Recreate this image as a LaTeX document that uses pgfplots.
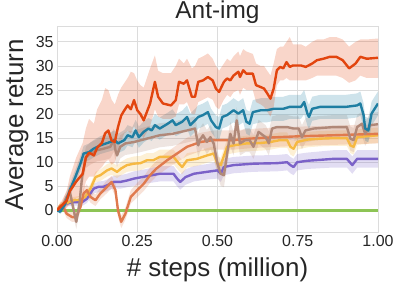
\documentclass[border=0pt]{standalone}
\usepackage{pgfplots}
\pgfplotsset{compat=1.18}
\usepgfplotslibrary{fillbetween}
\usepackage{pgfplotstable}
\usepackage{fontspec}
\setmainfont{Liberation Sans}
\definecolor{cred}{HTML}{E2450F}
\definecolor{cteal}{HTML}{1F7EA2}
\definecolor{cbrown}{HTML}{B08878}
\definecolor{corange}{HTML}{E07A4E}
\definecolor{cyellow}{HTML}{F6B942}
\definecolor{cpurple}{HTML}{7B62C8}
\definecolor{cgreen}{HTML}{8DC455}
\definecolor{gridc}{HTML}{DCDCDC}

\pgfplotstableread{
x y lo hi
0.00 0.0 0.0 0.0
0.03 2.0 0.5 4.0
0.04 4.0 1.5 7.0
0.06 6.0 2.5 11.0
0.08 7.6 3.0 14.0
0.09 11.0 6.0 17.0
0.10 12.0 7.0 19.0
0.115 11.4 7.0 18.0
0.125 13.0 8.0 21.0
0.14 14.0 9.0 23.0
0.15 16.0 10.0 25.4
0.16 16.6 10.5 25.0
0.17 14.5 9.5 23.0
0.18 14.2 10.0 22.0
0.19 17.3 12.5 24.0
0.20 19.7 14.5 25.5
0.21 20.8 16.0 26.5
0.22 21.8 16.5 27.5
0.23 21.0 16.0 28.8
0.24 22.9 17.5 28.5
0.25 20.8 16.0 27.0
0.26 20.0 16.0 26.0
0.27 18.7 15.0 25.5
0.29 22.2 17.5 29.5
0.305 26.7 21.0 32.2
0.315 23.6 19.5 29.0
0.33 22.2 19.0 28.5
0.355 21.8 19.0 28.5
0.37 22.9 19.5 30.0
0.38 26.7 22.0 31.5
0.395 26.3 22.0 30.5
0.405 27.0 22.5 31.5
0.42 23.6 20.0 29.5
0.43 23.6 20.0 30.0
0.44 26.7 22.5 31.5
0.455 27.0 23.0 32.0
0.47 27.7 23.5 32.6
0.485 27.0 23.0 31.5
0.495 25.3 21.5 30.0
0.505 24.6 21.0 29.0
0.52 26.7 23.0 30.5
0.53 27.4 24.0 31.5
0.54 27.0 23.5 31.0
0.55 28.0 24.5 32.0
0.565 28.8 25.0 33.0
0.57 27.7 24.0 32.0
0.58 29.1 25.5 33.5
0.59 28.4 25.0 33.0
0.61 28.4 25.0 32.5
0.62 26.0 22.5 30.5
0.635 25.6 22.0 30.0
0.645 25.3 21.5 30.0
0.655 24.3 20.5 29.0
0.665 23.2 19.5 28.0
0.675 25.3 21.5 30.5
0.685 29.1 26.0 33.5
0.695 29.8 27.0 34.0
0.705 29.5 27.0 34.0
0.715 30.8 27.5 35.0
0.725 29.8 27.0 36.0
0.735 30.1 27.0 34.5
0.76 30.1 27.0 34.5
0.775 29.8 27.0 34.0
0.795 30.5 27.5 35.0
0.81 31.2 28.0 35.5
0.83 31.5 28.0 35.5
0.85 31.9 28.0 36.0
0.87 31.9 28.0 36.0
0.89 31.2 27.5 35.5
0.91 29.5 26.5 34.0
0.93 30.5 27.0 35.0
0.945 31.9 28.0 35.5
0.965 31.5 27.5 35.5
1.00 31.7 27.5 35.7
}\redt

\pgfplotstableread{
x y lo hi
0.00 0.0 0.0 0.0
0.01 -0.3 -0.8 0.3
0.026 1.4 0.5 2.4
0.04 4.2 3.0 5.5
0.057 6.9 5.5 8.4
0.073 9.7 8.2 11.3
0.083 11.8 10.2 13.4
0.10 12.1 10.4 13.9
0.114 12.8 11.0 14.6
0.135 13.5 11.7 15.4
0.166 14.2 12.3 16.2
0.18 14.6 12.6 16.6
0.19 13.9 11.9 15.9
0.21 14.6 12.5 16.7
0.22 15.6 13.5 17.7
0.235 15.2 13.1 17.3
0.245 16.6 14.4 18.8
0.255 15.2 13.0 17.4
0.27 16.3 14.1 18.5
0.285 17.0 14.8 19.2
0.295 16.6 14.4 18.8
0.305 17.7 15.4 20.0
0.32 17.0 14.7 19.3
0.345 18.0 15.7 20.3
0.36 18.7 16.4 21.0
0.37 17.7 15.4 20.0
0.39 18.4 16.1 20.7
0.405 19.4 17.0 21.8
0.415 17.7 15.3 20.1
0.43 18.7 16.3 21.1
0.44 19.4 17.0 21.8
0.455 19.8 17.4 22.2
0.47 20.4 18.0 22.8
0.48 18.7 16.3 21.1
0.495 17.3 14.9 19.7
0.505 17.0 14.6 19.4
0.515 19.4 17.0 21.8
0.53 19.8 17.4 22.2
0.55 20.8 18.3 23.3
0.565 20.1 17.6 22.6
0.58 20.8 18.3 23.3
0.59 18.4 15.9 20.9
0.60 18.0 15.5 20.5
0.61 20.4 17.9 22.9
0.635 20.8 18.3 23.3
0.655 20.8 18.3 23.3
0.675 21.1 18.6 23.6
0.705 21.1 18.6 23.6
0.725 21.5 19.0 24.0
0.75 21.5 19.0 24.0
0.76 21.5 19.0 24.0
0.77 22.5 20.0 25.0
0.78 20.1 17.6 22.6
0.785 19.4 16.9 21.9
0.795 21.1 18.6 23.6
0.82 21.5 19.0 24.0
0.86 21.5 19.0 24.0
0.90 21.5 19.0 24.0
0.935 21.8 19.3 24.3
0.945 22.2 19.7 24.7
0.955 19.8 17.3 22.3
0.96 17.0 14.5 19.5
0.97 16.6 14.1 19.1
0.98 20.1 17.6 22.6
1.00 22.2 19.7 24.7
}\tealt

\pgfplotstableread{
x y lo hi
0.00 0.0 0.0 0.0
0.016 0.7 -0.3 1.7
0.03 2.8 1.5 4.1
0.04 3.8 2.3 5.3
0.05 0.7 -0.8 2.2
0.06 -2.4 -3.9 -0.9
0.07 1.4 -0.4 3.2
0.078 6.9 4.9 8.9
0.09 11.0 8.8 13.2
0.104 11.8 9.5 14.1
0.125 12.5 10.2 14.8
0.145 12.8 10.4 15.2
0.166 13.2 10.8 15.6
0.177 14.6 12.2 17.0
0.182 12.5 10.1 14.9
0.187 11.4 9.0 13.8
0.197 13.2 10.8 15.6
0.213 13.9 11.5 16.3
0.24 14.2 11.8 16.6
0.28 14.9 12.4 17.4
0.32 15.6 13.1 18.1
0.36 15.9 13.4 18.4
0.405 16.6 14.1 19.1
0.43 17.0 14.5 19.5
0.44 13.5 11.0 16.0
0.445 14.6 12.1 17.1
0.455 15.6 13.1 18.1
0.467 14.2 11.7 16.7
0.478 15.2 12.7 17.7
0.488 13.9 11.4 16.4
0.50 9.7 7.2 12.2
0.51 7.6 5.1 10.1
0.52 7.3 4.8 9.8
0.53 11.8 9.3 14.3
0.54 15.9 13.4 18.4
0.55 13.9 11.4 16.4
0.56 18.7 16.0 21.4
0.57 13.9 11.4 16.4
0.587 14.6 12.1 17.1
0.60 14.6 12.1 17.1
0.612 13.2 10.7 15.7
0.628 16.3 13.8 18.8
0.65 15.2 12.7 17.7
0.66 13.9 11.4 16.4
0.67 17.0 14.5 19.5
0.685 17.3 14.8 19.8
0.717 17.3 14.8 19.8
0.737 17.0 14.5 19.5
0.753 17.0 14.5 19.5
0.763 15.2 12.7 17.7
0.774 16.6 14.1 19.1
0.80 17.0 14.5 19.5
0.862 17.3 14.8 19.8
0.903 17.3 14.8 19.8
0.914 14.9 12.4 17.4
0.924 14.6 12.1 17.1
0.935 17.3 14.8 19.8
0.95 18.0 15.5 20.5
0.96 15.9 13.4 18.4
0.976 17.7 15.2 20.2
1.00 17.9 15.4 20.4
}\brownt

\pgfplotstableread{
x y lo hi
0.00 0.0 0.0 0.0
0.01 1.0 0.2 1.8
0.02 0.7 -0.2 1.6
0.03 -0.7 -1.6 0.2
0.047 -1.4 -2.4 -0.4
0.06 -1.4 -2.4 -0.4
0.073 0.7 -0.4 1.8
0.083 3.5 2.3 4.7
0.093 4.2 3.0 5.4
0.104 2.8 1.6 4.0
0.12 2.1 0.9 3.3
0.135 3.5 2.3 4.7
0.156 4.9 3.6 6.2
0.17 5.9 4.6 7.2
0.182 4.2 2.9 5.5
0.19 0.0 -1.3 1.3
0.20 -2.4 -3.7 -1.1
0.213 -0.7 -2.0 0.6
0.23 2.8 1.4 4.2
0.25 4.2 2.7 5.7
0.27 5.5 4.0 7.0
0.29 7.3 5.7 8.9
0.31 8.7 7.1 10.3
0.343 10.4 8.7 12.1
0.374 11.8 10.0 13.6
0.405 13.2 11.3 15.1
0.447 14.2 12.3 16.1
0.488 14.6 12.6 16.6
0.55 14.6 12.6 16.6
0.60 14.9 12.9 16.9
0.654 15.1 13.1 17.1
0.758 15.4 13.4 17.4
0.862 15.6 13.6 17.6
1.00 15.9 13.9 17.9
}\oranget

\pgfplotstableread{
x y lo hi
0.00 0.0 0.0 0.0
0.01 1.0 0.5 1.5
0.03 1.5 0.9 2.1
0.052 2.1 1.4 2.8
0.073 2.2 1.4 3.0
0.088 2.8 1.9 3.7
0.104 4.5 3.5 5.5
0.12 6.9 5.8 8.0
0.135 7.3 6.1 8.5
0.156 8.3 7.0 9.6
0.17 8.7 7.4 10.0
0.187 8.0 6.7 9.3
0.20 8.7 7.3 10.1
0.218 9.4 8.0 10.8
0.24 9.7 8.2 11.2
0.26 9.8 8.3 11.3
0.28 10.4 8.9 11.9
0.30 10.4 8.9 11.9
0.32 11.1 9.6 12.6
0.343 11.1 9.6 12.6
0.363 11.1 9.6 12.6
0.38 9.7 8.2 11.2
0.39 9.0 7.5 10.5
0.405 10.4 8.9 11.9
0.436 10.7 9.2 12.2
0.467 11.4 9.9 12.9
0.488 11.8 10.3 13.3
0.50 9.7 8.2 11.2
0.51 9.4 7.9 10.9
0.53 13.2 11.6 14.8
0.55 13.5 11.9 15.1
0.59 13.9 12.3 15.5
0.635 14.0 12.4 15.6
0.665 14.2 12.6 15.8
0.695 14.6 13.0 16.2
0.717 14.6 13.0 16.2
0.727 13.2 11.6 14.8
0.737 12.8 11.2 14.4
0.748 14.2 12.6 15.8
0.78 14.7 13.1 16.3
0.82 14.9 13.3 16.5
0.862 15.0 13.4 16.6
0.903 15.0 13.4 16.6
0.914 13.5 11.9 15.1
0.924 13.2 11.6 14.8
0.935 15.2 13.6 16.8
0.966 15.4 13.8 17.0
1.00 15.6 14.0 17.2
}\yellowt

\pgfplotstableread{
x y lo hi
0.00 0.0 0.0 0.0
0.01 0.7 0.3 1.1
0.03 1.4 0.8 2.0
0.052 1.7 1.0 2.4
0.078 1.7 0.9 2.5
0.093 2.4 1.5 3.3
0.114 4.5 3.5 5.5
0.13 4.9 3.8 6.0
0.145 4.9 3.7 6.1
0.156 5.2 4.0 6.4
0.177 5.9 4.6 7.2
0.197 5.9 4.5 7.3
0.218 6.2 4.8 7.6
0.24 6.6 5.1 8.1
0.28 7.1 5.6 8.6
0.32 7.6 6.0 9.2
0.363 7.6 6.0 9.2
0.374 6.6 5.0 8.2
0.384 5.9 4.3 7.5
0.40 6.9 5.3 8.5
0.426 7.6 6.0 9.2
0.467 8.0 6.4 9.6
0.50 8.3 6.6 10.0
0.51 7.6 5.9 9.3
0.52 9.0 7.3 10.7
0.55 9.4 7.7 11.1
0.613 9.7 8.0 11.4
0.685 9.8 8.1 11.5
0.717 10.0 8.3 11.7
0.727 9.4 7.7 11.1
0.737 9.0 7.3 10.7
0.748 10.0 8.3 11.7
0.78 10.3 8.6 12.0
0.862 10.7 8.9 12.5
0.903 10.7 8.9 12.5
0.92 9.4 7.6 11.2
0.935 10.7 8.9 12.5
1.00 10.7 8.9 12.5
}\purplet

\pgfplotstableread{
x y
0.00 0.0
0.25 0.0
0.50 0.0
0.75 0.0
1.00 0.0
}\greent

\begin{document}
\begin{tikzpicture}
\begin{axis}[
  at={(0bp,0bp)}, anchor=south west,
  scale only axis,
  width=321bp, height=206bp,
  xmin=0, xmax=1, ymin=-4.5, ymax=38.3,
  xtick={0,0.25,0.5,0.75,1},
  xticklabels={0.00,0.25,0.50,0.75,1.00},
  ytick={0,5,10,15,20,25,30,35},
  grid=major,
  major grid style={draw=gridc, line width=0.8bp},
  axis line style={draw=gridc, line width=0.8bp},
  tick style={draw=none},
  ticklabel style={font=\fontsize{16}{18}\selectfont, text=black!85},
  /pgf/number format/assume math mode=true,
  title={Ant-img},
  title style={font=\fontsize{24.5}{28}\selectfont, text=black!85,
    at={(axis description cs:0.5,1)}, anchor=base, yshift=1.5bp},
  xlabel={\# steps (million)},
  ylabel={Average return},
  label style={font=\fontsize{26}{30}\selectfont, text=black!85},
  xlabel style={at={(axis description cs:0.5,0)}, anchor=base, yshift=-44bp},
  ylabel style={at={(axis description cs:0,0.52)}, anchor=base, yshift=34bp},
]
\addplot[draw=none, name path=plo, forget plot] table[x=x, y=lo] {\purplet};
\addplot[draw=none, name path=phi, forget plot] table[x=x, y=hi] {\purplet};
\addplot[fill=cpurple, fill opacity=0.22, draw=none, forget plot] fill between[of=plo and phi];
\addplot[draw=none, name path=ylo, forget plot] table[x=x, y=lo] {\yellowt};
\addplot[draw=none, name path=yhi, forget plot] table[x=x, y=hi] {\yellowt};
\addplot[fill=cyellow, fill opacity=0.22, draw=none, forget plot] fill between[of=ylo and yhi];
\addplot[draw=none, name path=olo, forget plot] table[x=x, y=lo] {\oranget};
\addplot[draw=none, name path=ohi, forget plot] table[x=x, y=hi] {\oranget};
\addplot[fill=corange, fill opacity=0.22, draw=none, forget plot] fill between[of=olo and ohi];
\addplot[draw=none, name path=blo, forget plot] table[x=x, y=lo] {\brownt};
\addplot[draw=none, name path=bhi, forget plot] table[x=x, y=hi] {\brownt};
\addplot[fill=cbrown, fill opacity=0.22, draw=none, forget plot] fill between[of=blo and bhi];
\addplot[draw=none, name path=tlo, forget plot] table[x=x, y=lo] {\tealt};
\addplot[draw=none, name path=thi, forget plot] table[x=x, y=hi] {\tealt};
\addplot[fill=cteal, fill opacity=0.22, draw=none, forget plot] fill between[of=tlo and thi];
\addplot[draw=none, name path=rlo, forget plot] table[x=x, y=lo] {\redt};
\addplot[draw=none, name path=rhi, forget plot] table[x=x, y=hi] {\redt};
\addplot[fill=cred, fill opacity=0.22, draw=none, forget plot] fill between[of=rlo and rhi];

\addplot[cgreen, line width=2.4bp] table[x=x, y=y] {\greent};
\addplot[cpurple, line width=2.4bp, line join=round] table[x=x, y=y] {\purplet};
\addplot[cyellow, line width=2.4bp, line join=round] table[x=x, y=y] {\yellowt};
\addplot[corange, line width=2.4bp, line join=round] table[x=x, y=y] {\oranget};
\addplot[cbrown, line width=2.4bp, line join=round] table[x=x, y=y] {\brownt};
\addplot[cteal, line width=2.4bp, line join=round] table[x=x, y=y] {\tealt};
\addplot[cred, line width=2.4bp, line join=round] table[x=x, y=y] {\redt};
\end{axis}
\pgfresetboundingbox
\path[use as bounding box] (-57bp,-54bp) rectangle (342bp,232bp);
\end{tikzpicture}
\end{document}
